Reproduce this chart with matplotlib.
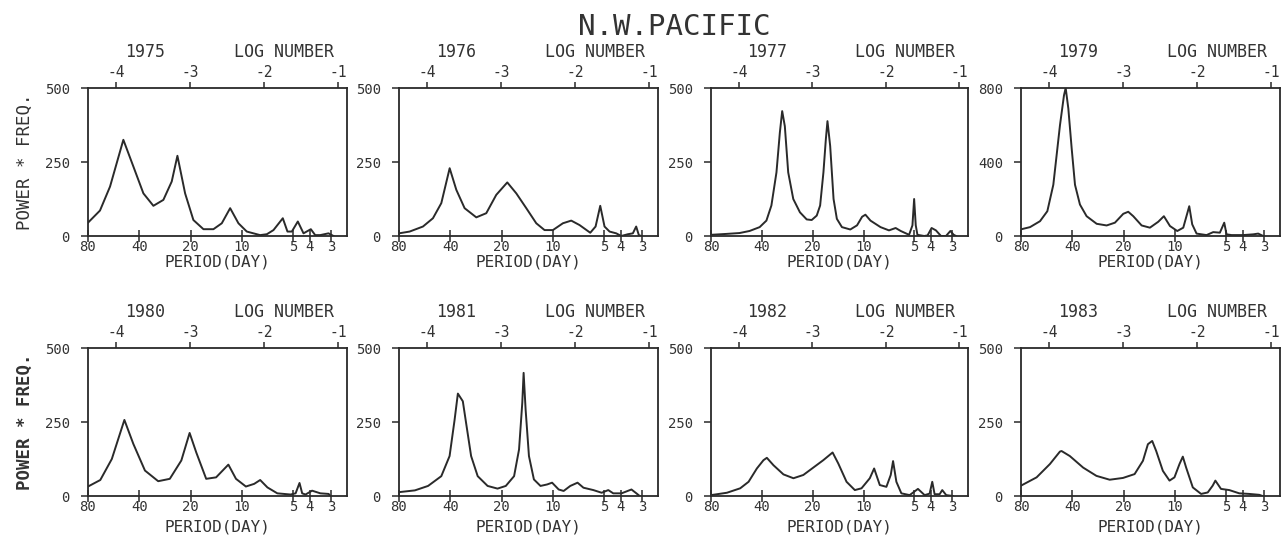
import numpy as np
import matplotlib
matplotlib.use("Agg")
import matplotlib.pyplot as plt

plt.rcParams['font.family'] = ['DejaVu Sans Mono', 'DejaVu Sans']
plt.rcParams['axes.unicode_minus'] = False

# ---- data: x = log number (natural log of frequency, 1/day), y = power * frequency ----
years = ["1975", "1976", "1977", "1979", "1980", "1981", "1982", "1983"]

logn_1975 = [-4.382, -4.220, -4.084, -3.904, -3.769, -3.633, -3.498, -3.363, -3.250, -3.173,
             -3.069, -2.957, -2.821, -2.686, -2.573, -2.460, -2.348, -2.235, -2.055, -1.964,
             -1.874, -1.748, -1.685, -1.626, -1.545, -1.468, -1.369, -1.310, -1.243, -1.130, -1.062]
pf_1975 = [45, 86, 167, 325, 235, 144, 102, 122, 184, 271,
           144, 54, 23, 23, 43, 94, 43, 15, 3, 6,
           20, 60, 15, 15, 49, 9, 23, 3, 3, 9, 0]

logn_1976 = [-4.382, -4.238, -4.058, -3.923, -3.810, -3.697, -3.607, -3.495, -3.337, -3.202,
             -3.067, -2.918, -2.796, -2.661, -2.526, -2.414, -2.301, -2.166, -2.053, -1.941,
             -1.796, -1.724, -1.661, -1.603, -1.535, -1.445, -1.377, -1.287, -1.220, -1.175,
             -1.139, -1.107]
pf_1976 = [9, 15, 32, 60, 111, 229, 156, 94, 63, 77,
           139, 181, 144, 94, 43, 20, 20, 43, 52, 37,
           11, 32, 102, 32, 15, 9, 0, 6, 9, 32,
           3, 0]

logn_1977 = [-4.382, -4.176, -3.993, -3.856, -3.719, -3.627, -3.559, -3.490, -3.444, -3.412,
             -3.376, -3.330, -3.261, -3.170, -3.078, -3.010, -2.941, -2.895, -2.850, -2.817,
             -2.795, -2.758, -2.712, -2.667, -2.598, -2.484, -2.392, -2.323, -2.278, -2.209,
             -2.072, -1.957, -1.866, -1.797, -1.683, -1.637, -1.614, -1.592, -1.569, -1.477,
             -1.431, -1.376, -1.317, -1.248, -1.180, -1.120, -1.075, -1.043]
pf_1977 = [4, 7, 10, 17, 30, 52, 103, 215, 349, 422,
           371, 215, 125, 80, 56, 54, 69, 103, 215, 327,
           388, 304, 125, 58, 30, 22, 36, 65, 72, 52,
           30, 19, 27, 17, 4, 36, 125, 36, 4, 0,
           2, 27, 19, 0, 0, 17, 4, 0]

logn_1979 = [-4.382, -4.260, -4.125, -4.026, -3.945, -3.855, -3.801, -3.778, -3.742, -3.697,
             -3.652, -3.585, -3.495, -3.359, -3.224, -3.112, -2.999, -2.932, -2.864, -2.751,
             -2.639, -2.526, -2.450, -2.368, -2.269, -2.188, -2.107, -2.067, -2.008, -1.873,
             -1.783, -1.693, -1.634, -1.603, -1.535, -1.377, -1.242, -1.175, -1.107]
pf_1979 = [36, 48, 80, 134, 277, 599, 760, 800, 689, 474,
           277, 170, 107, 66, 57, 72, 120, 131, 107, 57,
           45, 77, 107, 54, 27, 45, 161, 63, 13, 5,
           21, 18, 72, 9, 5, 5, 9, 13, 0]

logn_1980 = [-4.382, -4.216, -4.060, -3.890, -3.769, -3.612, -3.433, -3.276, -3.120, -3.008,
             -2.918, -2.784, -2.650, -2.484, -2.381, -2.247, -2.135, -2.054, -1.956, -1.822,
             -1.643, -1.575, -1.522, -1.486, -1.441, -1.352, -1.240, -1.128, -1.105]
pf_1980 = [32, 54, 125, 257, 176, 86, 50, 58, 120, 213,
           147, 58, 63, 106, 58, 32, 41, 54, 29, 9,
           5, 9, 44, 9, 5, 18, 9, 7, 0]

logn_1981 = [-4.382, -4.167, -3.989, -3.810, -3.698, -3.631, -3.586, -3.519, -3.475, -3.407,
             -3.318, -3.184, -3.050, -2.938, -2.826, -2.759, -2.715, -2.697, -2.670, -2.625,
             -2.558, -2.469, -2.379, -2.312, -2.223, -2.156, -2.066, -1.968, -1.888, -1.754,
             -1.642, -1.552, -1.485, -1.373, -1.239, -1.172, -1.128]
pf_1981 = [13, 19, 34, 67, 135, 256, 346, 320, 247, 135,
           67, 34, 25, 34, 67, 157, 315, 416, 292, 135,
           56, 34, 39, 45, 22, 17, 34, 45, 28, 20,
           11, 20, 9, 9, 22, 9, 0]

logn_1982 = [-4.382, -4.165, -3.984, -3.870, -3.757, -3.667, -3.621, -3.531, -3.395, -3.259,
             -3.124, -2.988, -2.852, -2.725, -2.648, -2.535, -2.422, -2.331, -2.218, -2.159,
             -2.082, -1.992, -1.933, -1.901, -1.856, -1.788, -1.675, -1.562, -1.471, -1.403,
             -1.367, -1.335, -1.267, -1.231, -1.177, -1.086]
pf_1982 = [3, 11, 26, 48, 93, 121, 129, 104, 73, 60,
           71, 96, 121, 147, 110, 48, 20, 26, 60, 93,
           37, 31, 71, 118, 48, 9, 3, 24, 3, 8,
           48, 6, 6, 20, 3, 0]

logn_1983 = [-4.382, -4.171, -3.991, -3.856, -3.834, -3.722, -3.542, -3.362, -3.183, -3.003,
             -2.846, -2.733, -2.666, -2.608, -2.554, -2.464, -2.374, -2.307, -2.239, -2.194,
             -2.149, -2.059, -1.947, -1.857, -1.790, -1.754, -1.678, -1.565, -1.431, -1.296,
             -1.161, -1.116]
pf_1983 = [35, 63, 108, 150, 152, 135, 96, 68, 55, 61,
           74, 119, 175, 186, 152, 85, 52, 63, 108, 133,
           96, 29, 7, 12, 35, 52, 24, 20, 9, 7,
           4, 0]

series_x = [logn_1975, logn_1976, logn_1977, logn_1979,
            logn_1980, logn_1981, logn_1982, logn_1983]
series_y = [pf_1975, pf_1976, pf_1977, pf_1979,
            pf_1980, pf_1981, pf_1982, pf_1983]
y_max = [500, 500, 500, 800, 500, 500, 500, 500]

period_ticks = [80, 40, 20, 10, 5, 4, 3]
log_ticks = [-4, -3, -2, -1]
x_range = (np.log(1 / 80), -0.88)

# ---- layout (pixel boxes on a 1282 x 537 canvas) ----
W, H = 1282, 537
fig = plt.figure(figsize=(W / 100, H / 100), dpi=100)
col_left = [88, 399, 711, 1021]
col_width = [259, 259, 257, 259]
row_top = [88, 348]
row_height = 148

ink = '#2a2a2a'
txt = '#333333'

fig.text(674 / W, 1 - 27 / H, "N.W.PACIFIC", ha='center', va='center',
         fontsize=21, color=txt)

for i, year in enumerate(years):
    r, c = divmod(i, 4)
    left = col_left[c] / W
    bottom = 1 - (row_top[r] + row_height) / H
    ax = fig.add_axes([left, bottom, col_width[c] / W, row_height / H])

    ax.plot(series_x[i], series_y[i], color=ink, lw=1.4, solid_joinstyle='round')
    ax.set_xlim(*x_range)
    ym = y_max[i]
    ax.set_ylim(0, ym)

    for s in ax.spines.values():
        s.set_color(ink)
        s.set_linewidth(1.3)

    # left axis
    ax.set_yticks([0, ym / 2, ym])
    ax.set_yticklabels([str(int(v)) for v in (0, ym / 2, ym)])
    ax.tick_params(axis='y', left=True, right=False, direction='out', length=5,
                   width=1.1, color=ink, pad=8, labelsize=10, labelcolor=txt)

    # bottom axis: period in days
    ax.set_xticks([np.log(1 / p) for p in period_ticks])
    ax.set_xticklabels([str(p) for p in period_ticks])
    ax.tick_params(axis='x', bottom=True, top=False, direction='inout', length=8,
                   width=1.1, color=ink, pad=-1, labelsize=10, labelcolor=txt)

    # top axis: log number
    top = ax.secondary_xaxis('top')
    top.set_xticks(log_ticks)
    top.set_xticklabels([str(v) for v in log_ticks])
    top.tick_params(direction='out', length=4, width=1.1, color=ink, pad=2,
                    labelsize=10.5, labelcolor=txt)
    top.spines['top'].set_visible(False)

    ax.annotate(year, xy=(0.22, 1), xycoords='axes fraction',
                xytext=(0, 26), textcoords='offset points',
                ha='center', va='center', fontsize=12, color=txt)
    ax.annotate("LOG NUMBER", xy=(0.755, 1), xycoords='axes fraction',
                xytext=(0, 26), textcoords='offset points',
                ha='center', va='center', fontsize=12, color=txt)
    xlab_off = 19 if r == 0 else 22
    ax.annotate("PERIOD(DAY)", xy=(0.5, 0), xycoords='axes fraction',
                xytext=(0, -xlab_off), textcoords='offset points',
                ha='center', va='center', fontsize=11.5, color=txt)

    if c == 0:
        fig.text(25 / W, bottom + 0.5 * row_height / H, "POWER * FREQ.",
                 rotation=90, ha='center', va='center', fontsize=12.5,
                 color=txt, fontweight='bold' if r == 1 else 'normal')

fig.savefig("out.png", dpi=100, facecolor='white')
